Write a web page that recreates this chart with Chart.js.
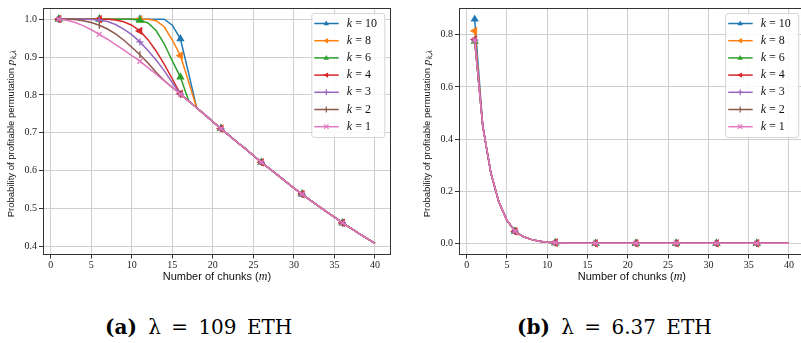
<!DOCTYPE html>
<html>
<head>
<meta charset="utf-8">
<script src="https://cdn.jsdelivr.net/npm/chart.js@4/dist/chart.umd.min.js"></script>
<style>
  body { margin: 0; background: #fff; width: 801px; height: 343px; position: relative; overflow: hidden; }
  canvas { position: absolute; top: 0; }
  #chartA { left: 0; }
  #chartB { left: 400px; }
  .cap { position: absolute; top: 315px; font-family: "DejaVu Serif", serif; font-size: 20px; color: #000; white-space: nowrap; word-spacing: 4px; }
  .cap b { margin-right: 1px; }
</style>
</head>
<body>
<canvas id="chartA" width="400" height="292"></canvas>
<canvas id="chartB" width="410" height="292"></canvas>
<div class="cap" style="left:105px"><b>(a)</b> λ = 109 ETH</div>
<div class="cap" style="left:517px"><b>(b)</b> λ = 6.37 ETH</div>
<script>
// number of chunks m
const m = [1, 2, 3, 4, 5, 6, 7, 8, 9, 10, 11, 12, 13, 14, 15, 16, 17, 18, 19, 20,
           21, 22, 23, 24, 25, 26, 27, 28, 29, 30, 31, 32, 33, 34, 35, 36, 37, 38, 39, 40];
const xTicks = [0, 5, 10, 15, 20, 25, 30, 35, 40];
const yTicksA = [0.4, 0.5, 0.6, 0.7, 0.8, 0.9, 1.0];
const yTicksB = [0.0, 0.2, 0.4, 0.6, 0.8];
const kLabels = ['10', '8', '6', '4', '3', '2', '1'];

// (a) lambda = 109 ETH : m = 1..17 per k, shared values from m = 18 on
const headA10 = [1.000, 1.000, 1.000, 1.000, 1.000, 1.000, 1.000, 1.000, 1.000, 1.000, 1.000, 1.000, 1.000, 1.000, 0.984, 0.948, 0.858];
const headA8  = [1.000, 1.000, 1.000, 1.000, 1.000, 1.000, 1.000, 1.000, 1.000, 1.000, 1.000, 1.000, 0.996, 0.980, 0.945, 0.904, 0.835];
const headA6  = [1.000, 1.000, 1.000, 1.000, 1.000, 1.000, 1.000, 1.000, 1.000, 1.000, 0.997, 0.990, 0.970, 0.935, 0.890, 0.847, 0.785];
const headA4  = [1.000, 1.000, 1.000, 1.000, 1.000, 1.000, 1.000, 0.998, 0.993, 0.984, 0.969, 0.946, 0.916, 0.881, 0.842, 0.803, 0.784];
const headA3  = [1.000, 1.000, 1.000, 1.000, 0.999, 0.998, 0.994, 0.986, 0.974, 0.959, 0.940, 0.917, 0.892, 0.864, 0.832, 0.802, 0.784];
const headA2  = [1.000, 1.000, 0.999, 0.996, 0.991, 0.984, 0.974, 0.961, 0.945, 0.926, 0.906, 0.884, 0.860, 0.838, 0.820, 0.802, 0.784];
const headA1  = [1.000, 0.997, 0.991, 0.983, 0.972, 0.960, 0.947, 0.933, 0.919, 0.904, 0.889, 0.872, 0.855, 0.837, 0.820, 0.802, 0.784];
const tailA   = [0.766, 0.748, 0.729, 0.711, 0.693, 0.675, 0.658, 0.640, 0.622, 0.605, 0.588, 0.571,
                 0.554, 0.538, 0.522, 0.507, 0.492, 0.477, 0.462, 0.448, 0.434, 0.421, 0.408];

// (b) lambda = 6.37 ETH : value at m = 1 per k, shared values from m = 2 on
const firstB = [0.860, 0.815, 0.775, 0.782, 0.780, 0.780, 0.780];
const tailB  = [0.450, 0.270, 0.158, 0.088, 0.046, 0.026, 0.015, 0.008, 0.004, 0.002, 0.001, 0.0005,
                0, 0, 0, 0, 0, 0, 0, 0, 0, 0, 0, 0, 0, 0, 0, 0, 0, 0, 0, 0, 0, 0, 0, 0, 0, 0, 0];

const seriesA = [headA10, headA8, headA6, headA4, headA3, headA2, headA1].map(h => h.concat(tailA));
const seriesB = firstB.map(v => [v].concat(tailB));

const colors = ['#1f77b4', '#ff7f0e', '#2ca02c', '#d62728', '#9467bd', '#8c564b', '#e377c2'];
const marks = [
    { style: 'triangle', rot: 0 },
    { style: 'triangle', rot: -90 },
    { style: 'triangle', rot: 0 },
    { style: 'triangle', rot: -90 },
    { style: 'cross', rot: 0 },
    { style: 'line', rot: 90 },
    { style: 'crossRot', rot: 0 }
];

const tickFont = { family: '"Liberation Serif", serif', size: 10 };

function makeDatasets(series) {
    return series.map((ys, i) => ({
        label: 'k = ' + kLabels[i],
        data: ys.map((y, j) => ({ x: m[j], y: y })),
        borderColor: colors[i],
        backgroundColor: colors[i],
        borderWidth: 1.5,
        pointStyle: marks[i].style,
        rotation: marks[i].rot,
        pointRadius: c => (c.dataIndex % 5 === 0 ? 3.5 : 0),
        pointBorderWidth: 1.3,
        pointBackgroundColor: colors[i],
        order: series.length - i
    }));
}

function drawMark(ctx, mk, x, y, r, color) {
    ctx.save();
    ctx.translate(x, y);
    ctx.rotate(mk.rot * Math.PI / 180);
    ctx.strokeStyle = color;
    ctx.fillStyle = color;
    ctx.lineWidth = 1.2;
    ctx.beginPath();
    if (mk.style === 'triangle') {
        ctx.moveTo(0, -r);
        ctx.lineTo(r * 0.9, r * 0.6);
        ctx.lineTo(-r * 0.9, r * 0.6);
        ctx.closePath();
        ctx.fill();
    } else if (mk.style === 'cross') {
        ctx.moveTo(-r, 0); ctx.lineTo(r, 0);
        ctx.moveTo(0, -r); ctx.lineTo(0, r);
        ctx.stroke();
    } else if (mk.style === 'line') {
        ctx.moveTo(-r, 0); ctx.lineTo(r, 0);
        ctx.stroke();
    } else {
        ctx.moveTo(-r * 0.75, -r * 0.75); ctx.lineTo(r * 0.75, r * 0.75);
        ctx.moveTo(-r * 0.75, r * 0.75); ctx.lineTo(r * 0.75, -r * 0.75);
        ctx.stroke();
    }
    ctx.restore();
}

// frame, legend and axis titles
const decorPlugin = {
    id: 'decor',
    afterDraw(chart) {
        const ctx = chart.ctx;
        const a = chart.chartArea;
        ctx.save();

        // frame
        ctx.strokeStyle = '#333';
        ctx.lineWidth = 1;
        ctx.strokeRect(Math.round(a.left) + 0.5, Math.round(a.top) + 0.5,
                       Math.round(a.right - a.left) - 1, Math.round(a.bottom - a.top) - 1);

        // legend
        const bw = 73, bh = 124;
        const bx = a.right - 6.5 - bw, by = a.top + 5;
        ctx.fillStyle = 'rgba(255,255,255,0.85)';
        ctx.strokeStyle = '#d6d6d6';
        ctx.beginPath();
        ctx.roundRect(bx + 0.5, by + 0.5, bw, bh, 2.5);
        ctx.fill();
        ctx.stroke();
        chart.data.datasets.forEach((ds, i) => {
            const yy = by + 10.5 + i * 17.2;
            ctx.strokeStyle = colors[i];
            ctx.lineWidth = 1.5;
            ctx.beginPath();
            ctx.moveTo(bx + 3, yy);
            ctx.lineTo(bx + 27.5, yy);
            ctx.stroke();
            drawMark(ctx, marks[i], bx + 15, yy, 3, colors[i]);
            ctx.fillStyle = '#111';
            ctx.textBaseline = 'middle';
            ctx.textAlign = 'left';
            ctx.font = 'italic 12px "Liberation Serif"';
            ctx.fillText('k', bx + 35.5, yy);
            const kw = ctx.measureText('k').width;
            ctx.font = '12px "Liberation Serif"';
            ctx.fillText(' = ' + kLabels[i], bx + 35.5 + kw, yy);
        });

        // x title
        ctx.fillStyle = '#111';
        ctx.textBaseline = 'middle';
        ctx.textAlign = 'left';
        const sansX = '11px "Liberation Sans"';
        const italX = 'italic 12px "Liberation Serif"';
        const p1 = 'Number of chunks (', p2 = 'm', p3 = ')';
        ctx.font = sansX; const w1 = ctx.measureText(p1).width, w3 = ctx.measureText(p3).width;
        ctx.font = italX; const w2 = ctx.measureText(p2).width;
        let x0 = (a.left + a.right) / 2 - (w1 + w2 + w3) / 2;
        ctx.font = sansX; ctx.fillText(p1, x0, 277);
        ctx.font = italX; ctx.fillText(p2, x0 + w1, 277);
        ctx.font = sansX; ctx.fillText(p3, x0 + w1 + w2, 277);

        // y title
        ctx.translate(a.left - 32, 134);
        ctx.rotate(-Math.PI / 2);
        const sansY = '9.5px "Liberation Sans"';
        const italY = 'italic 11px "Liberation Serif"';
        const q1 = 'Probability of profitable permutation ', q2 = 'p', q3 = 'k,λ';
        const sub = 'italic 8px "Liberation Serif"';
        ctx.font = sansY; const v1 = ctx.measureText(q1).width;
        ctx.font = italY; const v2 = ctx.measureText(q2).width;
        ctx.font = sub; const v3 = ctx.measureText(q3).width;
        x0 = -(v1 + v2 + v3) / 2;
        ctx.font = sansY; ctx.fillText(q1, x0, 0);
        ctx.font = italY; ctx.fillText(q2, x0 + v1, 0);
        ctx.font = sub; ctx.fillText(q3, x0 + v1 + v2 + 0.5, 3);
        ctx.restore();
    }
};

function makeChart(id, series, yTicks, yMin, yMax, yWidth, padRight) {
    return new Chart(document.getElementById(id), {
        type: 'line',
        data: { datasets: makeDatasets(series) },
        options: {
            responsive: false,
            animation: false,
            events: [],
            layout: { padding: { left: 0, right: padRight, top: 5, bottom: 0 } },
            plugins: { legend: { display: false }, tooltip: { enabled: false } },
            scales: {
                x: {
                    type: 'linear',
                    min: -0.95,
                    max: 41.95,
                    afterBuildTicks: s => { s.ticks = xTicks.map(v => ({ value: v })); },
                    afterFit: s => { s.height = 37.5; },
                    ticks: { font: tickFont, color: '#222', padding: 1, maxRotation: 0, callback: v => String(v) },
                    grid: { color: '#cfcfcf', tickColor: '#333', tickLength: 4, lineWidth: 1 },
                    border: { display: false }
                },
                y: {
                    type: 'linear',
                    min: yMin,
                    max: yMax,
                    afterBuildTicks: s => { s.ticks = yTicks.map(v => ({ value: v })); },
                    afterFit: s => { s.width = yWidth; },
                    ticks: { font: tickFont, color: '#222', padding: 2, callback: v => v.toFixed(1) },
                    grid: { color: '#cfcfcf', tickColor: '#333', tickLength: 4, lineWidth: 1 },
                    border: { display: false }
                }
            }
        },
        plugins: [decorPlugin]
    });
}

makeChart('chartA', seriesA, yTicksA, 0.3785, 1.0295, 43, 9.2);
makeChart('chartB', seriesB, yTicksB, -0.043, 0.903, 59, 5);
</script>
</body>
</html>
